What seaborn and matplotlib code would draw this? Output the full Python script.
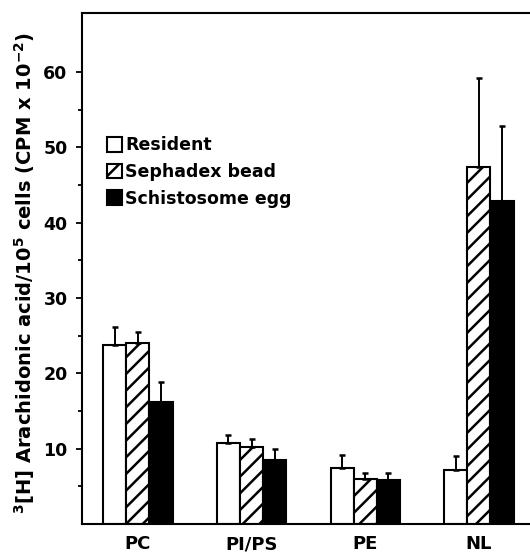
import matplotlib
matplotlib.use("Agg")
import matplotlib.pyplot as plt
import seaborn as sns
import pandas as pd
from matplotlib.ticker import FixedLocator

categories = ["PC", "PI/PS", "PE", "NL"]
series = ["Resident", "Sephadex bead", "Schistosome egg"]
resident = [23.8, 10.7, 7.5, 7.2]
resident_err = [2.3, 1.1, 1.6, 1.8]
sephadex = [24.0, 10.2, 6.0, 47.4]
sephadex_err = [1.5, 1.1, 0.8, 11.8]
egg = [16.2, 8.5, 5.8, 42.9]
egg_err = [2.7, 1.4, 1.0, 9.9]
y_ticks = [10, 20, 30, 40, 50, 60]

values = [resident, sephadex, egg]
errors = [resident_err, sephadex_err, egg_err]
rows = []
for s, vals in zip(series, values):
    for c, v in zip(categories, vals):
        rows.append({"cat": c, "val": v, "series": s})
df = pd.DataFrame(rows)

sns.set_style("white")
plt.rcParams["font.family"] = ["DejaVu Sans"]
plt.rcParams["hatch.linewidth"] = 1.8
plt.rcParams["hatch.color"] = "black"
for k in ["text.color", "axes.labelcolor", "xtick.color", "ytick.color"]:
    plt.rcParams[k] = "black"

fig = plt.figure(figsize=(5.30, 5.52), dpi=100)
ax = fig.add_axes([0.155, 0.0507, 0.845, 0.9266])

palette = {"Resident": "white", "Sephadex bead": "white", "Schistosome egg": "black"}
sns.barplot(data=df, x="cat", y="val", hue="series", order=categories,
            hue_order=series, palette=palette, edgecolor="black",
            linewidth=1.5, width=0.61, gap=0, errorbar=None, legend=False,
            saturation=1, ax=ax)

for cont, errs, s in zip(ax.containers, errors, series):
    xs, ys = [], []
    for p in cont.patches:
        if s == "Sephadex bead":
            p.set_hatch("//")
        xs.append(p.get_x() + p.get_width() / 2)
        ys.append(p.get_height())
    ax.errorbar(xs, ys, yerr=[[0] * len(errs), errs], fmt="none",
                ecolor="black", elinewidth=1.4, capsize=2.5, capthick=1.8,
                zorder=1)

ax.set_xlim(-0.49, 3.45)
ax.set_ylim(0, 67.9)
ax.yaxis.set_major_locator(FixedLocator(y_ticks))
ax.yaxis.set_minor_locator(FixedLocator([5, 15, 25, 35, 45, 55]))
ax.set_yticklabels([str(t) for t in y_ticks], fontsize=12.5, fontweight="bold")
ax.tick_params(axis="y", which="major", direction="out", length=4.5, width=1.3,
               pad=6, left=True)
ax.tick_params(axis="y", which="minor", direction="out", length=3, width=1.3,
               left=True)
ax.tick_params(axis="x", length=0, pad=8)
for lab in ax.get_xticklabels():
    lab.set_fontsize(13)
    lab.set_fontweight("bold")

ax.set_xlabel("")
ax.set_ylabel(r"$^{\mathbf{3}}$[H] Arachidonic acid/10$^{\mathbf{5}}$ cells (CPM x 10$^{\mathbf{-2}}$)",
              fontsize=14, fontweight="bold")
ax.yaxis.set_label_coords(-0.1, 0.49)

for side in ["left", "top", "bottom"]:
    ax.spines[side].set_visible(True)
    ax.spines[side].set_linewidth(1.5)
    ax.spines[side].set_color("black")
ax.spines["right"].set_visible(False)

ax.legend(ax.containers, series, loc="upper left", bbox_to_anchor=(0.055, 0.758),
          frameon=False, handlelength=0.9, handleheight=0.9, handletextpad=0.15,
          labelspacing=0.5, borderpad=0, borderaxespad=0,
          prop={"weight": "bold", "size": 12.5})

fig.savefig("out.png", dpi=100)
